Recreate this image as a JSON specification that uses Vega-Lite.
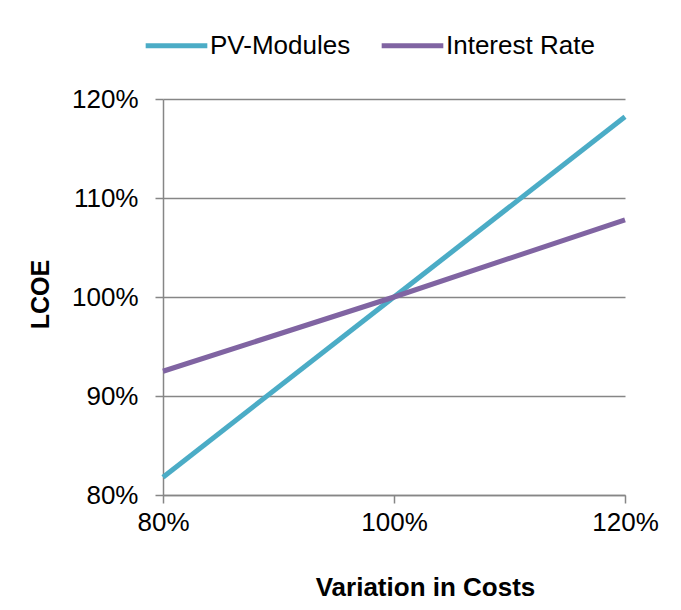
{
  "$schema": "https://vega.github.io/schema/vega-lite/v6.json",
  "width": 462,
  "height": 396,
  "autosize": {"type": "none"},
  "padding": {"left": 163, "top": 99, "right": 56, "bottom": 115},
  "background": "white",
  "config": {
    "view": {"stroke": null},
    "font": "Liberation Sans",
    "axis": {
      "domainColor": "#868686",
      "domainWidth": 1.5,
      "tickColor": "#868686",
      "tickWidth": 1.5,
      "tickSize": 8,
      "gridColor": "#868686",
      "gridWidth": 1.5,
      "labelFont": "Liberation Sans",
      "labelFontSize": 26,
      "labelColor": "#000000",
      "titleFont": "Liberation Sans",
      "titleFontSize": 26,
      "titleFontWeight": "bold",
      "titleColor": "#000000"
    }
  },
  "data": {
    "values": [
      {"series": "PV-Modules", "variation": 0.8, "lcoe": 0.818},
      {"series": "PV-Modules", "variation": 1.0, "lcoe": 1.0},
      {"series": "PV-Modules", "variation": 1.2, "lcoe": 1.182},
      {"series": "Interest Rate", "variation": 0.8, "lcoe": 0.925},
      {"series": "Interest Rate", "variation": 1.0, "lcoe": 1.0},
      {"series": "Interest Rate", "variation": 1.2, "lcoe": 1.078}
    ]
  },
  "mark": {"type": "line", "strokeWidth": 5, "strokeCap": "butt"},
  "encoding": {
    "x": {
      "field": "variation",
      "type": "quantitative",
      "scale": {"domain": [0.8, 1.2], "nice": false, "zero": false},
      "axis": {
        "title": "Variation in Costs",
        "format": ".0%",
        "values": [0.8, 1.0, 1.2],
        "grid": false,
        "labelPadding": 6,
        "labelFlush": false,
        "titleX": 262,
        "titleY": 100,
        "titleAlign": "center",
        "titleBaseline": "alphabetic"
      }
    },
    "y": {
      "field": "lcoe",
      "type": "quantitative",
      "scale": {"domain": [0.8, 1.2], "nice": false, "zero": false},
      "axis": {
        "title": "LCOE",
        "format": ".0%",
        "values": [0.8, 0.9, 1.0, 1.1, 1.2],
        "grid": true,
        "labelPadding": 17,
        "titleX": -123,
        "titleY": 195,
        "titleAngle": -90,
        "titleAlign": "center",
        "titleBaseline": "middle",
        "titleFontSize": 25
      }
    },
    "color": {
      "field": "series",
      "type": "nominal",
      "scale": {"domain": ["PV-Modules", "Interest Rate"], "range": ["#4BACC6", "#8064A2"]},
      "legend": {
        "title": null,
        "orient": "none",
        "direction": "horizontal",
        "legendX": -20,
        "legendY": -87,
        "symbolType": "stroke",
        "symbolSize": 3800,
        "symbolStrokeWidth": 5,
        "labelFont": "Liberation Sans",
        "labelFontSize": 26,
        "labelColor": "#000000",
        "labelOffset": 0,
        "labelLimit": 400,
        "columnPadding": 20
      }
    }
  }
}
